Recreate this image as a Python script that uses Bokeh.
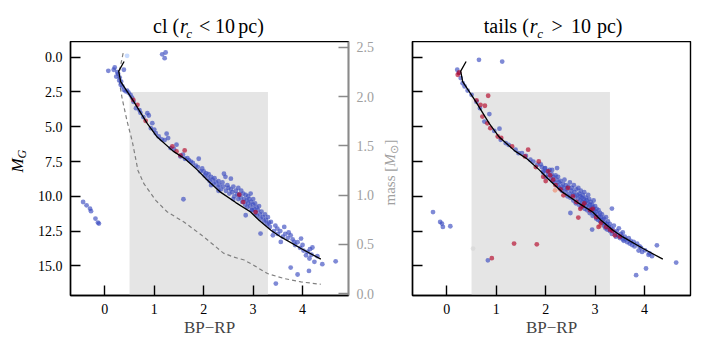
import numpy as np
from bokeh.plotting import figure
from bokeh.models import (Range1d, LinearAxis, FixedTicker, PrintfTickFormatter,
                          CustomJSTickFormatter, Label)
from bokeh.layouts import row, column
from bokeh.embed import file_html
from bokeh.resources import INLINE

FONT = "Liberation Serif"

# ---------------- data ----------------
x_ticks = [0, 1, 2, 3, 4]
y_ticks = [0.0, 2.5, 5.0, 7.5, 10.0, 12.5, 15.0]
mass_ticks = [0.0, 0.5, 1.0, 1.5, 2.0, 2.5]

# shaded selection box: colour 0.5..3.3, M_G fainter than 2.5
shade_color = [0.5, 3.3]
shade_mag = 2.5

# isochrone (BP-RP, M_G)
iso_x = [0.39, 0.28, 0.32, 0.57, 0.86, 1.06, 1.38, 1.62, 1.87, 2.05, 2.34, 2.65,
         2.95, 3.12, 3.36, 3.56, 3.97, 4.37]
iso_y = [0.31, 1.0, 1.75, 3.1, 4.78, 5.74, 6.75, 7.3, 8.1, 8.75, 9.7, 10.45,
         11.13, 11.72, 12.44, 12.92, 13.75, 14.52]

# mass-colour relation (BP-RP, mass [Msun])
mass_x = [0.37, 0.30, 0.28, 0.35, 0.45, 0.555, 0.67, 0.79, 1.03, 1.26, 1.60, 1.94,
          2.21, 2.40, 2.61, 2.82, 3.0, 3.29, 3.63, 3.97, 4.37]
mass_y = [2.44, 2.27, 2.19, 1.98, 1.75, 1.545, 1.25, 1.115, 0.946, 0.83, 0.726, 0.60,
          0.49, 0.41, 0.37, 0.34, 0.29, 0.203, 0.152, 0.118, 0.094]

# cluster (cl) stars
cl_blue = [
    (1.16, -0.21), (1.23, -0.34), (1.21, 0.07),
    (0.07, 0.98), (0.18, 0.9), (0.20, 0.74), (0.25, 1.08), (0.385, 0.9), (0.23, 1.39),
    (0.30, 1.46), (0.29, 1.67), (0.32, 1.98), (0.355, 2.1), (0.385, 2.34), (0.42, 2.45),
    (0.27, 1.2), (0.33, 1.75),
    (0.52, 2.7), (0.63, 3.66), (0.72, 4.0), (0.86, 4.02), (0.89, 4.19), (0.96, 4.74),
    (0.93, 5.1), (1.03, 5.46), (1.25, 5.5), (1.28, 5.81), (1.09, 5.7), (1.21, 5.96),
    (1.45, 6.29), (1.33, 6.53), (1.53, 7.13), (1.67, 7.25), (1.90, 7.3), (1.74, 7.5),
    (1.84, 7.8), (1.97, 8.0), (0.48, 2.55), (0.45, 2.4), (0.55, 2.9), (0.58, 3.2),
    (0.70, 3.8), (0.78, 4.3), (1.0, 5.2), (1.15, 5.9), (1.4, 6.6), (1.58, 7.0),
    (1.62, 7.3), (1.78, 7.6), (1.88, 7.9), (1.93, 8.2), (1.7, 7.4),
    (-0.44, 10.41), (-0.37, 10.65), (-0.30, 10.89), (-0.28, 11.07), (-0.19, 11.6),
    (-0.14, 11.89), (-0.12, 11.96), (1.59, 10.21),
    (2.0, 8.2), (2.02, 8.5), (2.05, 8.35), (2.08, 8.7), (2.1, 8.4), (2.12, 8.9),
    (2.15, 8.6), (2.18, 8.8), (2.2, 9.1), (2.22, 8.7), (2.25, 9.0), (2.28, 9.3),
    (2.3, 8.9), (2.32, 9.2), (2.35, 9.5), (2.38, 9.0), (2.4, 9.3), (2.41, 8.37),
    (2.44, 8.6), (2.55, 8.73), (2.45, 9.6), (2.48, 9.2), (2.5, 9.4), (2.52, 9.8),
    (2.55, 9.5), (2.58, 9.7), (2.6, 9.3), (2.62, 10.0), (2.65, 9.6), (2.68, 9.85),
    (2.7, 10.2), (2.7, 9.4), (2.72, 9.9), (2.75, 10.1), (2.76, 9.6), (2.78, 10.4),
    (2.8, 9.8), (2.82, 10.2), (2.84, 10.6), (2.85, 9.9), (2.87, 10.3), (2.88, 10.8),
    (2.9, 10.0), (2.9, 10.5), (2.92, 10.2), (2.94, 10.7), (2.95, 9.8), (2.96, 10.4),
    (2.98, 11.0), (3.0, 10.6), (3.0, 10.2), (3.02, 10.9), (3.04, 10.5), (3.05, 11.2),
    (3.07, 10.8), (3.08, 11.4), (3.1, 11.0), (3.12, 10.7), (3.14, 11.3), (3.15, 11.6),
    (3.17, 11.1), (3.2, 11.5), (3.22, 11.8), (3.24, 11.3), (3.26, 11.7), (3.28, 12.0),
    (3.3, 11.5), (3.32, 11.9), (3.34, 12.2), (2.85, 11.36), (3.36, 11.84), (3.15, 12.68),
    (2.97, 11.0), (2.6, 10.2), (2.3, 9.6), (2.15, 9.2),
    (3.63, 12.2), (3.49, 12.32), (3.76, 12.8), (3.56, 13.28), (3.83, 13.28), (3.97, 13.04),
    (4.20, 13.68), (4.07, 14.24), (4.14, 14.47), (4.24, 14.71), (4.40, 14.88), (4.67, 14.67),
    (3.76, 15.12), (3.90, 15.62), (4.13, 15.36), (3.46, 16.27), (3.42, 12.5), (3.45, 12.1),
    (3.5, 12.7), (3.55, 12.5), (3.6, 12.9), (3.65, 12.7), (3.7, 13.0), (3.72, 12.6),
    (3.8, 13.1), (3.85, 13.5), (3.9, 13.3), (3.95, 13.7), (4.0, 13.5), (4.02, 13.9),
    (4.1, 14.0), (4.15, 13.8), (4.18, 14.2), (4.3, 14.3), (3.4, 12.8),
]
cl_red = [(0.575, 3.06), (0.66, 3.42), (0.825, 4.57), (1.365, 6.41), (1.45, 6.77),
          (1.615, 6.7), (1.53, 7.06), (2.72, 9.88), (2.80, 10.41), (3.05, 11.13)]
cl_light = [(0.45, -0.1)]

# tidal tails stars
tails_blue = [
    (0.65, 0.19), (1.12, 0.31),
    (0.21, 0.9), (0.24, 1.14), (0.32, 1.87), (0.28, 1.5), (0.36, 2.1), (0.42, 2.4),
    (0.50, 2.7), (0.67, 3.66), (0.86, 4.09), (0.76, 4.63), (1.065, 5.14), (0.96, 5.3),
    (1.09, 5.94), (1.19, 6.17), (1.39, 6.65), (1.52, 6.89), (1.69, 7.37), (1.83, 7.73),
    (1.99, 7.97), (2.23, 7.97), (2.13, 8.1), (0.6, 3.2), (1.25, 6.3), (1.45, 6.9),
    (1.6, 7.1), (1.75, 7.5), (1.9, 7.7), (1.95, 8.2),
    (-0.28, 11.13), (-0.135, 11.84), (-0.10, 11.96), (-0.08, 12.2), (0.07, 12.15),
    (0.83, 14.6),
    (3.56, 13.1), (3.78, 13.28), (3.93, 13.7), (4.01, 13.88), (4.25, 13.52), (4.08, 14.2),
    (4.64, 14.76), (4.03, 15.19), (3.83, 15.67),
    (1.92, 7.9), (1.95, 8.3), (1.98, 8.0), (2.0, 8.6), (2.03, 8.2), (2.05, 8.45),
    (2.08, 8.1), (2.1, 8.7), (2.12, 8.4), (2.14, 8.9),
    (2.16, 8.6), (2.18, 9.0), (2.2, 8.5), (2.22, 8.8), (2.24, 9.2), (2.25, 8.6),
    (2.27, 9.0), (2.28, 9.4), (2.3, 8.9), (2.32, 9.3),
    (2.33, 9.6), (2.35, 9.1), (2.37, 9.4), (2.38, 8.8), (2.4, 9.7), (2.41, 9.2),
    (2.43, 9.5), (2.44, 10.0), (2.46, 9.3), (2.48, 9.8), (2.49, 9.0), (2.5, 10.1),
    (2.50, 11.2),
    (2.52, 9.6), (2.53, 9.4), (2.55, 9.9), (2.56, 10.3), (2.57, 9.2), (2.58, 9.7),
    (2.6, 10.0), (2.61, 10.5), (2.62, 9.5), (2.64, 9.9), (2.65, 10.2), (2.66, 9.4),
    (2.67, 10.6), (2.68, 9.8), (2.7, 10.3), (2.7, 10.0),
    (2.71, 9.6), (2.72, 10.8), (2.73, 10.1), (2.74, 10.4), (2.75, 9.9), (2.76, 10.6),
    (2.77, 10.2), (2.78, 9.7), (2.79, 10.9), (2.8, 10.4), (2.81, 10.1), (2.82, 10.7),
    (2.83, 10.3), (2.84, 11.0), (2.85, 10.5), (2.86, 9.9), (2.87, 10.8), (2.88, 10.2),
    (2.89, 11.2), (2.9, 10.6),
    (2.91, 10.4), (2.92, 10.9), (2.93, 11.1), (2.94, 10.6), (2.95, 11.4), (2.96, 10.8),
    (2.97, 10.3), (2.98, 11.0), (2.99, 11.3), (3.0, 10.7), (3.01, 11.1), (3.02, 11.6),
    (3.03, 10.9), (3.05, 11.3), (3.06, 11.7), (3.07, 11.0), (3.08, 11.5), (3.1, 11.2),
    (3.1, 11.8),
    (3.12, 11.5), (3.13, 12.0), (3.14, 11.3), (3.15, 11.7), (3.17, 12.1), (3.18, 11.6),
    (3.2, 11.9), (3.21, 12.3), (3.22, 11.5), (3.24, 12.0), (3.25, 12.4), (3.26, 11.8),
    (3.28, 12.2), (3.3, 12.5), (3.3, 12.0), (2.94, 12.39), (3.34, 10.88),
    (3.32, 12.3), (3.34, 12.7), (3.36, 12.4), (3.38, 12.1), (3.4, 12.6), (3.42, 12.9),
    (3.44, 12.5), (3.46, 12.8), (3.48, 12.3), (3.5, 13.0), (3.52, 12.7), (3.54, 12.9),
    (3.56, 12.6), (3.58, 13.2), (3.6, 12.9), (3.62, 13.1), (3.65, 13.3), (3.68, 13.0),
    (3.7, 13.4), (3.72, 13.2), (3.75, 13.5), (3.8, 13.6), (3.85, 13.4), (3.88, 13.9),
    (3.9, 13.6), (3.95, 14.0), (4.1, 14.1), (4.15, 14.3),
]
tails_red = [
    (0.22, 1.26), (0.25, 1.1), (0.836, 2.77), (0.68, 3.42), (0.77, 3.49), (0.6, 3.1),
    (0.72, 4.27), (0.82, 4.75), (0.88, 5.1), (1.03, 5.7), (1.1, 5.8), (1.32, 6.41),
    (1.645, 6.65), (1.58, 7.13), (1.86, 7.49), (1.80, 7.9), (2.09, 8.49), (1.95, 8.6),
    (2.05, 8.2), (2.15, 8.8), (2.0, 8.9), (2.2, 9.2), (2.3, 9.5), (2.36, 9.93),
    (2.45, 9.4), (2.55, 10.0), (2.62, 10.4), (2.75, 10.7), (2.7, 10.9), (2.78, 10.5),
    (2.66, 11.53), (2.9, 11.0), (2.95, 10.9), (3.02, 11.5), (3.07, 12.2), (3.12, 11.9),
    (3.22, 12.2), (3.3, 12.4), (3.35, 12.5), (3.4, 12.8), (3.5, 12.9),
    (0.91, 14.45), (1.36, 13.4), (1.82, 13.45),
]
tails_orange = [(2.19, 9.57), (3.1, 12.1)]
tails_grey = [(0.53, 13.76)]

# ---------------- geometry ----------------
X0, X1 = -0.695, 4.93
YT, YB = -1.13, 17.13            # top / bottom of the (inverted) M_G axis
M0, M1 = -0.02, 2.559
TOP_H = 41                        # height of the strip holding the titles
MAIN_H = 309                      # height of each panel figure
TOTAL_H = TOP_H + MAIN_H

BLUE, RED, ORANGE = "#3b4cc0", "#b40426", "#f08a6c"
LIGHT, GREY = "#aac7fd", "#d6d6d6"
ALPHA = 0.65
PT = 4.8
MC = "#a0a0a0"
TS = "20px"   # title size


def text_fig(w, h):
    f = figure(width=w, height=h, output_backend="svg", toolbar_location=None,
               x_range=Range1d(0, w), y_range=Range1d(h, 0), min_border=0,
               x_axis_location=None, y_axis_location=None)
    f.outline_line_color = None
    f.xgrid.visible = False
    f.ygrid.visible = False
    return f


def label(f, x, y, text, size=TS, style="normal", align="left", angle=0.0,
          color="black"):
    # y (or x for rotated text) is the middle of the text line
    f.add_layout(Label(x=x, y=y, text=text, text_font=FONT, text_font_size=size,
                       text_font_style=style, text_align=align,
                       text_baseline="middle", angle=angle, text_color=color))


def style_axis(ax, color="black", fmt=None):
    ax.axis_line_color = color
    ax.axis_line_width = 1.4
    ax.major_tick_line_color = color
    ax.major_tick_line_width = 1.4
    ax.major_tick_in = 10
    ax.major_tick_out = 0
    ax.minor_tick_line_color = None
    ax.major_label_text_font = FONT
    ax.major_label_text_font_size = "14px"
    ax.major_label_text_color = color
    ax.major_label_standoff = 8
    if fmt is not None:
        ax.formatter = fmt


def panel(width, bl, br):
    p = figure(width=width, height=MAIN_H, output_backend="svg", toolbar_location=None,
               x_range=Range1d(X0, X1), y_range=Range1d(YB, YT),
               min_border_left=bl, min_border_right=br, min_border_top=0,
               min_border_bottom=MAIN_H - 254)
    p.xgrid.visible = False
    p.ygrid.visible = False
    p.outline_line_color = "black"
    p.outline_line_width = 1.4
    p.xaxis.ticker = FixedTicker(ticks=x_ticks)
    p.yaxis.ticker = FixedTicker(ticks=y_ticks)
    style_axis(p.xaxis[0], fmt=PrintfTickFormatter(format="%d"))
    p.xaxis.axis_label = "BP\u2212RP"
    p.xaxis.axis_label_text_font = FONT
    p.xaxis.axis_label_text_font_size = "17px"
    p.xaxis.axis_label_text_font_style = "normal"
    p.xaxis.axis_label_standoff = 1
    p.quad(left=[shade_color[0]], right=[shade_color[1]], top=[shade_mag],
           bottom=[YB + 5], fill_color="#e5e5e5", line_color=None)
    return p


def scatter(p, pts, color):
    xs = [a for a, b in pts]
    ys = [b for a, b in pts]
    p.scatter(xs, ys, size=PT, fill_color=color, fill_alpha=ALPHA, line_color=None)


# ---------------- strip with the y label  M_G  (page x 0..30) ----------------
ylab = text_fig(30, TOTAL_H)
label(ylab, 17, 172, "M", size="17px", style="italic", angle=np.pi / 2)
label(ylab, 21.5, 158, "G", size="12px", style="italic", angle=np.pi / 2)

# ---------------- left panel: cl (page x 30..378) ----------------
p1 = panel(348, 40, 30)
style_axis(p1.yaxis[0], fmt=PrintfTickFormatter(format="%.1f"))
p1.extra_y_ranges = {"mass": Range1d(M0, M1)}
mass_ax = LinearAxis(y_range_name="mass", ticker=FixedTicker(ticks=mass_ticks))
style_axis(mass_ax, color="#8a8a8a", fmt=PrintfTickFormatter(format="%.1f"))
mass_ax.major_label_text_color = MC
p1.add_layout(mass_ax, "right")

p1.line(mass_x, mass_y, y_range_name="mass", line_color="#808080", line_width=1.2,
        line_dash="4 3")
scatter(p1, cl_blue, BLUE)
scatter(p1, cl_light, LIGHT)
scatter(p1, cl_red, RED)
p1.line(iso_x, iso_y, line_color="black", line_width=1.3)

t1 = text_fig(348, TOP_H)          # page x 30..378
o = 30
label(t1, 166 - o, 25.5, "cl (", align="right")
label(t1, 167 - o, 25.5, "r", style="italic")
label(t1, 175 - o, 32.5, "c", size="13px", style="italic")
label(t1, 191 - o, 25.5, "<")
label(t1, 211 - o, 25.5, "10")
label(t1, 240 - o, 25.5, "pc)")

# ---------------- strip with the mass label (page x 378..400) ----------------
mlab = text_fig(22, TOTAL_H)
o = 378
label(mlab, 389.5 - o, 205, "mass [", size="15px", angle=np.pi / 2, color=MC)
label(mlab, 389.5 - o, 166, "M", size="15px", style="italic", angle=np.pi / 2, color=MC)
label(mlab, 393.5 - o, 153, "\u2299", size="11px", angle=np.pi / 2, color=MC)
label(mlab, 389.5 - o, 144, "]", size="15px", angle=np.pi / 2, color=MC)

# ---------------- right panel: tails (page x 400..700) ----------------
p2 = panel(300, 12, 10)
style_axis(p2.yaxis[0], fmt=CustomJSTickFormatter(code="return ''"))
scatter(p2, tails_blue, BLUE)
scatter(p2, tails_grey, GREY)
scatter(p2, tails_orange, ORANGE)
scatter(p2, tails_red, RED)
p2.line(iso_x, iso_y, line_color="black", line_width=1.3)

t2 = text_fig(300, TOP_H)
o = 400
label(t2, 525.5 - o, 25.5, "tails (", align="right")
label(t2, 526.5 - o, 25.5, "r", style="italic")
label(t2, 534.5 - o, 32.5, "c", size="13px", style="italic")
label(t2, 550 - o, 25.5, ">")
label(t2, 571 - o, 25.5, "10")
label(t2, 599 - o, 25.5, "pc)")

layout = row(ylab, column(t1, p1), mlab, column(t2, p2))
open("out.html", "w").write(file_html(layout, INLINE))
